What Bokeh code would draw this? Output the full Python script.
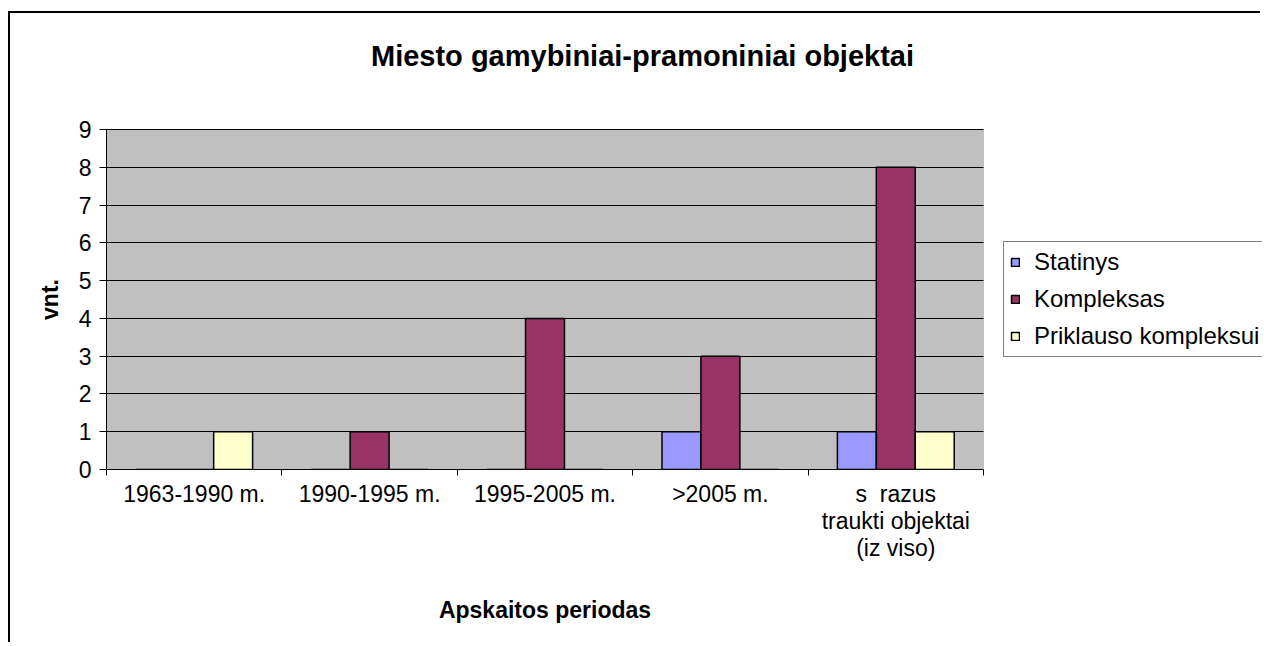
from bokeh.plotting import figure
from bokeh.models import (FixedTicker, Legend, LegendItem, Label, Range1d, LinearAxis,
                          ColumnDataSource, BoxAnnotation)
from bokeh.transform import dodge
from bokeh.embed import file_html
from bokeh.resources import INLINE

title_text = "Miesto gamybiniai-pramoniniai objektai"
x_title = "Apskaitos periodas"
y_title = "vnt."
categories = ["1963-1990 m.", "1990-1995 m.", "1995-2005 m.", ">2005 m.",
              "s\u00a0\u00a0razus\ntraukti objektai\n(iz viso)"]
series_names = ["Statinys", "Kompleksas", "Priklauso kompleksui"]
statinys = [0, 0, 0, 1, 1]
kompleksas = [0, 1, 4, 3, 8]
priklauso = [1, 0, 0, 0, 1]
colors = ["#9999FF", "#993366", "#FFFFCC"]
y_ticks = list(range(0, 10))
y_max = 9

FONT = "Liberation Sans"

# canvas layout (pixels)
W, H = 1252, 631
LEFT, BOTTOM = 96, 175
PLOT_TOP, PLOT_RIGHT = 116, 973          # plot-area edges inside the canvas
n = len(categories)
frame_h = H - BOTTOM
frame_w = W - LEFT
x_end = n * frame_w / (PLOT_RIGHT - LEFT)
y_end = y_max * frame_h / (frame_h - PLOT_TOP)

pos = [i + 0.5 for i in range(n)]
src = ColumnDataSource(dict(x=pos, s=statinys, k=kompleksas, p=priklauso))

p = figure(width=W, height=H, output_backend="svg", toolbar_location=None,
           x_range=Range1d(0, x_end), y_range=Range1d(0, y_end),
           min_border_left=LEFT, min_border_top=0, min_border_right=0,
           min_border_bottom=BOTTOM,
           background_fill_color="white", border_fill_color="white",
           outline_line_color=None,
           styles={"border-top": "2px solid black", "border-left": "2px solid black",
                   "margin-top": "11px", "margin-left": "8px"})

# grey plot area
p.add_layout(BoxAnnotation(left=0, right=n, bottom=0, top=y_max, level="image",
                           fill_color="#C0C0C0", fill_alpha=1,
                           line_color="#808080", line_width=1))

# horizontal grid lines limited to the plot area
g = p.ygrid[0]
if "cross_bounds" in g.properties():
    g.cross_bounds = (0, n)
    g.grid_line_color = "black"
    g.grid_line_width = 1
else:
    g.visible = False
    gl = p.segment(x0=0, x1=n, y0=y_ticks, y1=y_ticks, line_color="black", line_width=1)
    gl.level = "underlay"
p.xgrid.visible = False

bw = 0.222
renderers = []
for col, off, c in zip(["s", "k", "p"], [-bw, 0, bw], colors):
    r = p.vbar(x=dodge("x", off, range=p.x_range), top=col, bottom=0, width=bw,
               source=src, fill_color=c, line_color="black", line_width=1.5)
    renderers.append(r)

# x axis (category labels between ticks)
p.xaxis.bounds = (0, n)
p.xaxis.ticker = FixedTicker(ticks=pos, minor_ticks=list(range(n + 1)))
p.xaxis.major_label_overrides = {x: lab for x, lab in zip(pos, categories)}
p.xaxis.major_tick_out = 0
p.xaxis.major_tick_in = 0
p.xaxis.minor_tick_out = 6
p.xaxis.minor_tick_in = 0
p.xaxis.minor_tick_line_color = "black"
p.xaxis.axis_line_color = "black"
p.xaxis.major_label_text_font = FONT
p.xaxis.major_label_text_font_size = "23px"
p.xaxis.major_label_text_color = "black"
p.xaxis.major_label_text_line_height = 1.05
p.xaxis.major_label_standoff = 5

# x axis title, centred under the plot area
xt = LinearAxis(ticker=FixedTicker(ticks=[n / 2], minor_ticks=[]),
                major_label_overrides={n / 2: x_title},
                axis_line_color=None, major_tick_line_color=None, minor_tick_line_color=None,
                major_tick_out=0, major_tick_in=0, minor_tick_out=0, minor_tick_in=0,
                major_label_standoff=32, major_label_text_font=FONT,
                major_label_text_font_size="23px", major_label_text_font_style="bold",
                major_label_text_color="black")
p.add_layout(xt, "below")

# y axis
p.yaxis.bounds = (0, y_max)
p.yaxis.ticker = FixedTicker(ticks=y_ticks, minor_ticks=[])
p.yaxis.major_tick_out = 7
p.yaxis.major_tick_in = 0
p.yaxis.minor_tick_out = 0
p.yaxis.minor_tick_in = 0
p.yaxis.axis_line_color = "black"
p.yaxis.major_tick_line_color = "black"
p.yaxis.major_label_text_font = FONT
p.yaxis.major_label_text_font_size = "23px"
p.yaxis.major_label_text_color = "black"
p.yaxis.major_label_standoff = 8

# y axis title, centred on the plot area
yt = LinearAxis(ticker=FixedTicker(ticks=[y_max / 2], minor_ticks=[]),
                major_label_overrides={y_max / 2: y_title},
                major_label_orientation="parallel",
                axis_line_color=None, major_tick_line_color=None, minor_tick_line_color=None,
                major_tick_out=0, major_tick_in=0, minor_tick_out=0, minor_tick_in=0,
                major_label_standoff=13, major_label_text_font=FONT,
                major_label_text_font_size="23px", major_label_text_font_style="bold",
                major_label_text_color="black")
p.add_layout(yt, "left")

# title (inside the enlarged frame, above the grey plot area)
p.add_layout(Label(x=536, y=frame_h - 42, x_units="screen", y_units="screen",
                   text=title_text, text_align="center", text_baseline="middle",
                   text_font=FONT, text_font_size="29px", text_font_style="bold",
                   text_color="black"))

legend = Legend(items=[LegendItem(label=nm, renderers=[r]) for nm, r in zip(series_names, renderers)],
                location=(PLOT_RIGHT - LEFT + 20, 112), glyph_width=10, glyph_height=10,
                label_standoff=14, padding=6, spacing=9, margin=0,
                label_text_font=FONT, label_text_font_size="24px", label_text_color="black",
                border_line_color="black", border_line_width=1,
                background_fill_color="white", background_fill_alpha=1)
p.add_layout(legend, "center")

open("out.html", "w").write(file_html(p, INLINE))
